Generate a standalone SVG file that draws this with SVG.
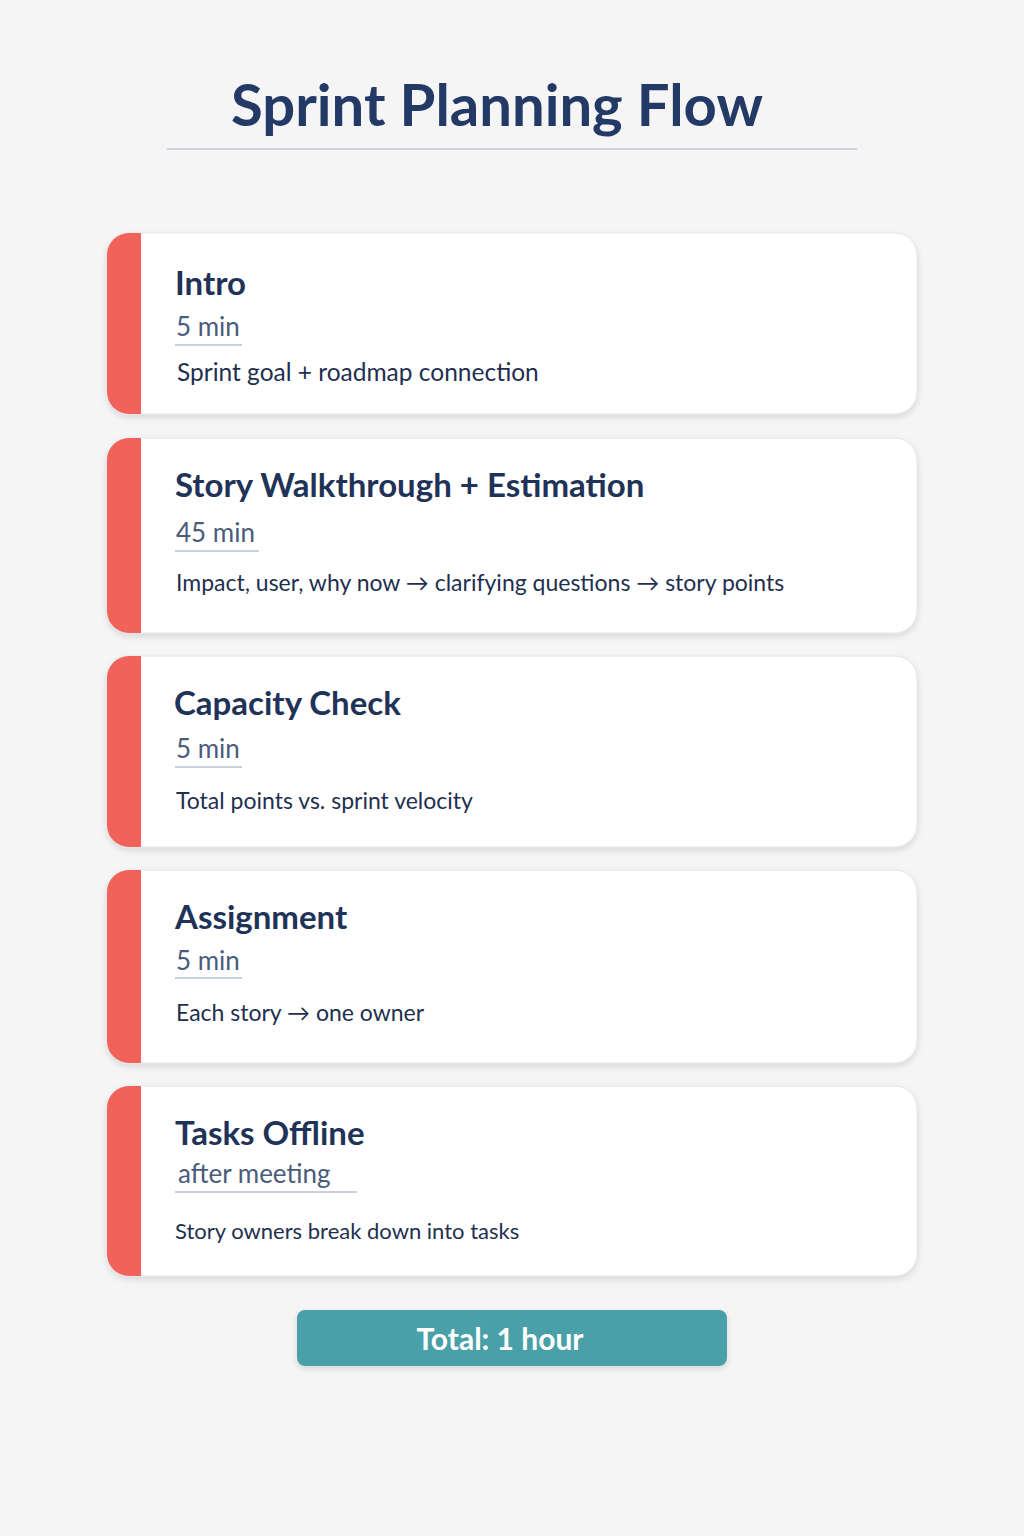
<svg xmlns="http://www.w3.org/2000/svg" width="1024" height="1536" viewBox="0 0 1024 1536">
<defs>
<filter id="sh" x="-5%" y="-10%" width="110%" height="125%">
<feDropShadow dx="0" dy="3" stdDeviation="3" flood-color="#000" flood-opacity="0.12"/>
</filter>
<clipPath id="c1"><rect x="107" y="233" width="810" height="181" rx="22"/></clipPath>
<clipPath id="c2"><rect x="107" y="438" width="810" height="195" rx="22"/></clipPath>
<clipPath id="c3"><rect x="107" y="656" width="810" height="191" rx="22"/></clipPath>
<clipPath id="c4"><rect x="107" y="870" width="810" height="193" rx="22"/></clipPath>
<clipPath id="c5"><rect x="107" y="1086" width="810" height="190" rx="22"/></clipPath>
</defs>
<style>
.card{fill:#ffffff;stroke:#e3e4e8;stroke-width:1}
.stripe{fill:#f0625a}
.ttl{font-family:Lato,"Open Sans",sans-serif;font-weight:700;font-size:33px;fill:#1f3358}
.dur{font-family:Lato,"Open Sans",sans-serif;font-size:26px;fill:#4b5b7c}
.ul{stroke:#b9c0d0;stroke-width:1.5}
.desc{font-family:Lato,"Open Sans",sans-serif;font-size:23px;fill:#1f2f50}
</style>
<rect width="1024" height="1536" fill="#f5f5f6"/>
<g id="title">
<text x="497" y="126" text-anchor="middle" font-family="Lato,'Open Sans',sans-serif" font-weight="700" font-size="58" fill="#243a66">Sprint Planning Flow</text>
<line x1="167" y1="149" x2="857" y2="149" stroke="#c5c8d0" stroke-width="1.5"/>
</g>
<g id="node-intro">
<rect class="card" x="107" y="233" width="810" height="181" rx="22" filter="url(#sh)"/>
<rect class="stripe" x="107" y="233" width="34" height="181" clip-path="url(#c1)"/>
<text class="ttl" x="175" y="295">Intro</text>
<text class="dur" x="176" y="336">5 min</text>
<line class="ul" x1="175" y1="345" x2="242" y2="345"/>
<text class="desc" x="177" y="381" style="font-size:24.5px">Sprint goal + roadmap connection</text>
</g>
<g id="node-story">
<rect class="card" x="107" y="438" width="810" height="195" rx="22" filter="url(#sh)"/>
<rect class="stripe" x="107" y="438" width="34" height="195" clip-path="url(#c2)"/>
<text class="ttl" x="175" y="497">Story Walkthrough + Estimation</text>
<text class="dur" x="176" y="542">45 min</text>
<line class="ul" x1="175" y1="551" x2="259" y2="551"/>
<text class="desc" x="176" y="591">Impact, user, why now → clarifying questions → story points</text>
</g>
<g id="node-capacity">
<rect class="card" x="107" y="656" width="810" height="191" rx="22" filter="url(#sh)"/>
<rect class="stripe" x="107" y="656" width="34" height="191" clip-path="url(#c3)"/>
<text class="ttl" x="174" y="715">Capacity Check</text>
<text class="dur" x="176" y="758">5 min</text>
<line class="ul" x1="175" y1="767" x2="242" y2="767"/>
<text class="desc" x="176" y="809">Total points vs. sprint velocity</text>
</g>
<g id="node-assignment">
<rect class="card" x="107" y="870" width="810" height="193" rx="22" filter="url(#sh)"/>
<rect class="stripe" x="107" y="870" width="34" height="193" clip-path="url(#c4)"/>
<text class="ttl" x="175" y="929">Assignment</text>
<text class="dur" x="176" y="970">5 min</text>
<line class="ul" x1="175" y1="978" x2="242" y2="978"/>
<text class="desc" x="176" y="1021">Each story → one owner</text>
</g>
<g id="node-tasks">
<rect class="card" x="107" y="1086" width="810" height="190" rx="22" filter="url(#sh)"/>
<rect class="stripe" x="107" y="1086" width="34" height="190" clip-path="url(#c5)"/>
<text class="ttl" x="175" y="1145">Tasks Offline</text>
<text class="dur" x="178" y="1183">after meeting</text>
<line class="ul" x1="175" y1="1192" x2="357" y2="1192"/>
<text class="desc" x="175" y="1239" style="font-size:22px">Story owners break down into tasks</text>
</g>
<g id="node-total">
<rect x="297" y="1310" width="430" height="56" rx="8" fill="#4aa0a8" filter="url(#sh)"/>
<text x="500" y="1350" text-anchor="middle" font-family="Lato,'Open Sans',sans-serif" font-weight="700" font-size="30" fill="#ffffff">Total: 1 hour</text>
</g>
<g id="connectors"></g>
</svg>
